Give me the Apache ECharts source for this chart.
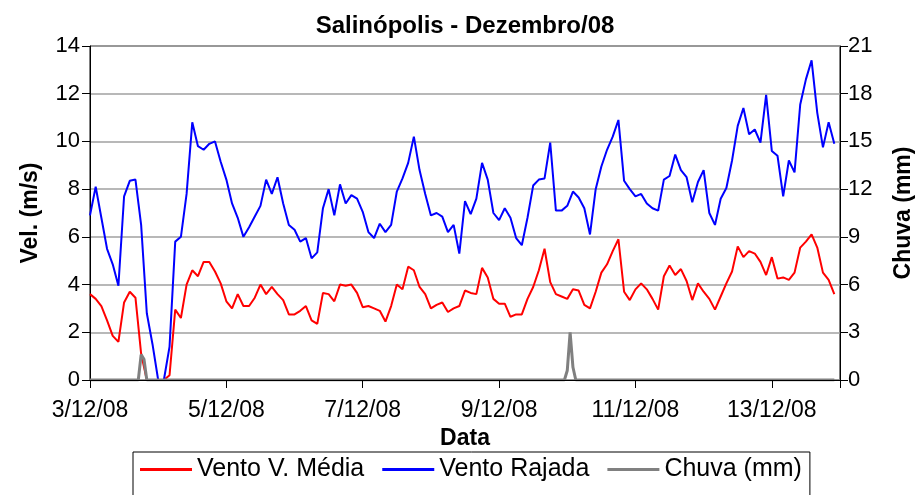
<!DOCTYPE html>
<html>
<head>
<meta charset="utf-8">
<script src="https://cdn.jsdelivr.net/npm/echarts@6/dist/echarts.min.js"></script>
<style>html,body{margin:0;padding:0;background:#fff;}#c{width:918px;height:495px;}</style>
</head>
<body>
<div id="c"></div>
<script>
// sampling step of the wind series, in hours from 3/12/08 00:00
const STEP_H = 2;
const tickLabels = ['3/12/08', '5/12/08', '7/12/08', '9/12/08', '11/12/08', '13/12/08'];
const seriesNames = ['Vento V. Média', 'Vento Rajada', 'Chuva (mm)'];

const ventoMedia = [
  3.6, 3.4, 3.1, 2.5, 1.85, 1.6, 3.25, 3.7, 3.45, 1.1,
  0, 0, 0, 0, 0.2, 2.95, 2.6, 4.0, 4.6, 4.35,
  4.95, 4.95, 4.55, 4.05, 3.3, 3.0, 3.6, 3.1, 3.1, 3.45,
  4.0, 3.6, 3.9, 3.6, 3.35, 2.75, 2.75, 2.9, 3.1, 2.5,
  2.35, 3.65, 3.6, 3.3, 4.0, 3.95, 4.0, 3.65, 3.05, 3.1,
  3.0, 2.9, 2.45, 3.1, 4.0, 3.8, 4.75, 4.6, 3.9, 3.6,
  3.0, 3.15, 3.25, 2.85, 3.0, 3.1, 3.75, 3.65, 3.6, 4.7,
  4.3, 3.4, 3.2, 3.2, 2.65, 2.75, 2.75, 3.4, 3.9, 4.6,
  5.5, 4.1, 3.6, 3.5, 3.4, 3.8, 3.75, 3.15, 3.0, 3.7,
  4.5, 4.85, 5.4, 5.9, 3.7, 3.35, 3.8, 4.05, 3.8, 3.4,
  2.95, 4.35, 4.8, 4.4, 4.65, 4.15, 3.35, 4.05, 3.7, 3.4,
  2.95, 3.5, 4.05, 4.55, 5.6, 5.15, 5.4, 5.3, 4.95, 4.4,
  5.15, 4.25, 4.3, 4.2, 4.5, 5.55, 5.8, 6.1, 5.55, 4.5,
  4.2, 3.6
];

const ventoRajada = [
  6.9, 8.1, 6.8, 5.5, 4.85, 3.95, 7.7, 8.35, 8.4, 6.5,
  2.8, 1.5, 0, 0, 1.4, 5.8, 6.0, 7.8, 10.8, 9.8,
  9.65, 9.9, 10.0, 9.15, 8.4, 7.4, 6.8, 6.0, 6.4, 6.85,
  7.3, 8.4, 7.8, 8.5, 7.4, 6.5, 6.3, 5.8, 5.95, 5.1,
  5.35, 7.2, 8.0, 6.9, 8.2, 7.4, 7.75, 7.6, 7.05, 6.2,
  5.95, 6.55, 6.2, 6.5, 7.9, 8.45, 9.1, 10.2, 8.8, 7.8,
  6.9, 7.0, 6.85, 6.2, 6.5, 5.3, 7.5, 6.95, 7.6, 9.1,
  8.4, 7.0, 6.7, 7.2, 6.8, 5.95, 5.65, 6.8, 8.15, 8.4,
  8.45, 9.95, 7.1, 7.1, 7.3, 7.9, 7.65, 7.2, 6.1, 8.0,
  8.95, 9.65, 10.2, 10.9, 8.35, 8.0, 7.7, 7.8, 7.4, 7.2,
  7.1, 8.4, 8.55, 9.45, 8.8, 8.5, 7.45, 8.3, 8.8, 7.0,
  6.5, 7.6, 8.05, 9.2, 10.65, 11.4, 10.3, 10.5, 9.95, 11.95,
  9.6, 9.4, 7.7, 9.2, 8.7, 11.55, 12.6, 13.4, 11.2, 9.75,
  10.8, 9.9
];

// rain: hours from 3/12/08 00:00 and amount (mm)
const chuvaHora = [0, 17, 18, 19, 20, 167, 168, 169, 170, 171, 262];
const chuvaMm   = [0, 0, 1.6, 1.3, 0, 0, 0.6, 3.0, 0.8, 0, 0];

const FONT = "'Liberation Sans', Arial, sans-serif";
const chart = echarts.init(document.getElementById('c'), null, {renderer: 'canvas'});

const toPairs = arr => arr.map((v, i) => [i * STEP_H, v]);

chart.setOption({
  animation: false,
  backgroundColor: '#fff',
  textStyle: {fontFamily: FONT, color: '#000'},
  title: {
    text: 'Salinópolis - Dezembro/08',
    left: 465, textAlign: 'center', top: 14, padding: 0,
    textStyle: {fontFamily: FONT, fontSize: 24, fontWeight: 'bold', color: '#000'}
  },
  grid: {
    left: 90, right: 78, top: 46, bottom: 115,
    containLabel: false, outerBoundsMode: 'none',
    show: true, borderColor: '#000', borderWidth: 1, backgroundColor: 'transparent'
  },
  legend: {
    data: seriesNames,
    icon: 'rect',
    left: 133, top: 452,
    padding: [5, 8, 20, 7],
    itemGap: 18, itemWidth: 52, itemHeight: 3,
    borderColor: '#000', borderWidth: 1,
    textStyle: {fontFamily: FONT, fontSize: 25, color: '#000'}
  },
  xAxis: {
    type: 'value', min: 0, max: 264, interval: 48, z: 10,
    name: 'Data', nameLocation: 'middle', nameGap: 46,
    nameTextStyle: {fontFamily: FONT, fontSize: 23, fontWeight: 'bold', color: '#000'},
    axisLine: {lineStyle: {color: '#000', width: 1}},
    axisTick: {show: true, length: 8, lineStyle: {color: '#000'}},
    axisLabel: {
      margin: 19, fontSize: 23, color: '#000', fontFamily: FONT,
      formatter: v => (v % 48 === 0 && tickLabels[v / 48]) ? tickLabels[v / 48] : ''
    },
    splitLine: {show: false}
  },
  yAxis: [
    {
      type: 'value', min: 0, max: 14, interval: 2,
      name: 'Vel. (m/s)', nameLocation: 'middle', nameRotate: 90, nameGap: 48,
      nameTextStyle: {fontFamily: FONT, fontSize: 23, fontWeight: 'bold', color: '#000'},
      axisLine: {show: true, lineStyle: {color: '#000', width: 1}},
      axisTick: {show: true, length: 8, lineStyle: {color: '#000'}},
      axisLabel: {margin: 10, fontSize: 22, color: '#000', fontFamily: FONT},
      splitLine: {show: true, lineStyle: {color: '#a0a0a0', width: 1.5}}
    },
    {
      type: 'value', min: 0, max: 21, interval: 3, position: 'right',
      name: 'Chuva (mm)', nameLocation: 'middle', nameRotate: 90, nameGap: 52,
      nameTextStyle: {fontFamily: FONT, fontSize: 23, fontWeight: 'bold', color: '#000'},
      axisLine: {show: true, lineStyle: {color: '#000', width: 1}},
      axisTick: {show: true, length: 8, lineStyle: {color: '#000'}},
      axisLabel: {margin: 8, fontSize: 22, color: '#000', fontFamily: FONT},
      splitLine: {show: false}
    }
  ],
  series: [
    {
      name: seriesNames[0], type: 'line', yAxisIndex: 0, symbol: 'none',
      data: toPairs(ventoMedia),
      lineStyle: {color: '#ff0000', width: 2}, itemStyle: {color: '#ff0000'}
    },
    {
      name: seriesNames[1], type: 'line', yAxisIndex: 0, symbol: 'none',
      data: toPairs(ventoRajada),
      lineStyle: {color: '#0000ff', width: 2}, itemStyle: {color: '#0000ff'}
    },
    {
      name: seriesNames[2], type: 'line', yAxisIndex: 1, symbol: 'none',
      data: chuvaHora.map((h, i) => [h, chuvaMm[i]]),
      lineStyle: {color: '#808080', width: 3}, itemStyle: {color: '#808080'}
    }
  ]
});
</script>
</body>
</html>
